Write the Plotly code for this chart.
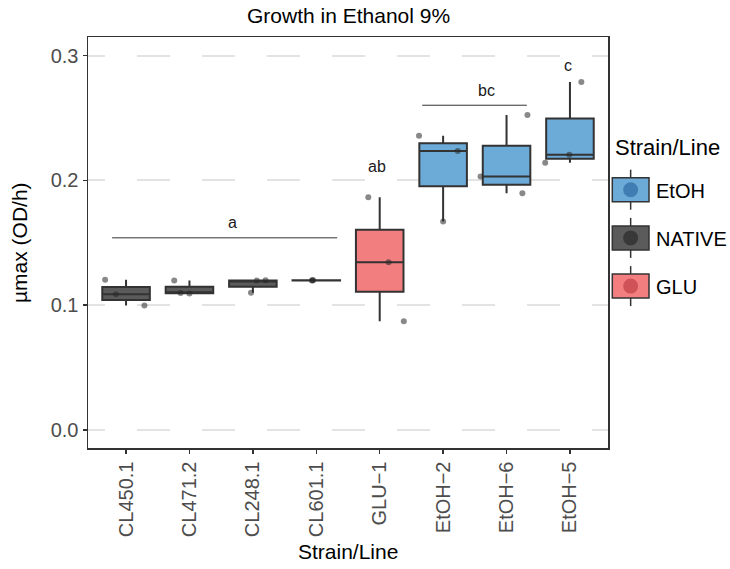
import numpy as np
import plotly.graph_objects as go

# ---------------- data ----------------
strains = ["CL450.1", "CL471.2", "CL248.1", "CL601.1",
           "GLU\u22121", "EtOH\u22122", "EtOH\u22126", "EtOH\u22125"]
groups = ["NATIVE", "NATIVE", "NATIVE", "NATIVE", "GLU", "EtOH", "EtOH", "EtOH"]

cl450_1 = [0.1203, 0.1088, 0.0997]
cl471_2 = [0.1198, 0.1098, 0.1094]
cl248_1 = [0.1100, 0.1197, 0.1199]
cl601_1 = [0.1198, 0.1199, 0.1200]
glu_1 = [0.1866, 0.1345, 0.0872]
etoh_2 = [0.2358, 0.2237, 0.1670]
etoh_6 = [0.2525, 0.2032, 0.1898]
etoh_5 = [0.2790, 0.2205, 0.2142]
values = [cl450_1, cl471_2, cl248_1, cl601_1, glu_1, etoh_2, etoh_6, etoh_5]

# horizontal jitter of each point (category units)
jitter = [[-0.33, -0.16, 0.29],
          [-0.24, -0.14, 0.00],
          [-0.03, 0.06, 0.20],
          [-0.07, -0.06, -0.05],
          [-0.18, 0.14, 0.38],
          [-0.38, 0.23, 0.00],
          [0.33, -0.41, 0.25],
          [0.18, -0.01, -0.39]]

legend_groups = ["EtOH", "NATIVE", "GLU"]
fill_colors = {"EtOH": "#6CAAD7", "NATIVE": "#5B5B5B", "GLU": "#F37E80"}
dot_colors = {"EtOH": "#3F7DB3", "NATIVE": "#383838", "GLU": "#CF5258"}

sig_labels = ["a", "ab", "bc", "c"]
sig_x = [1.68, 3.95, 5.68, 6.97]
sig_y = [0.166, 0.211, 0.272, 0.292]
bar_x0 = [-0.22, 4.67]
bar_x1 = [3.33, 6.32]
bar_y = [0.154, 0.2603]

y_ticks = [0.0, 0.1, 0.2, 0.3]

# ---------------- layout constants ----------------
W, H = 730, 569
L, R, T, B = 88, 608, 37, 448
FONT = "Liberation Sans, Arial, Helvetica, sans-serif"

def px_x(p):
    return (p - L) / (R - L)

def px_y(p):
    return (B - p) / (B - T)

fig = go.Figure()

# boxes (ggplot style: type-7 quartiles, 1.5 IQR whiskers)
for i, (name, grp, vals) in enumerate(zip(strains, groups, values)):
    v = np.array(vals, dtype=float)
    q1, med, q3 = np.percentile(v, [25, 50, 75])
    iqr = q3 - q1
    lo = v[v >= q1 - 1.5 * iqr].min()
    hi = v[v <= q3 + 1.5 * iqr].max()
    fig.add_trace(go.Box(
        x=[i], q1=[q1], median=[med], q3=[q3],
        lowerfence=[lo], upperfence=[hi],
        width=0.75, whiskerwidth=0,
        fillcolor=fill_colors[grp],
        line=dict(color="#333333", width=2),
        boxpoints=False, showlegend=False, hoverinfo="skip",
    ))

# jittered points
for i, (vals, jit) in enumerate(zip(values, jitter)):
    fig.add_trace(go.Scatter(
        x=[i + j for j in jit], y=vals, mode="markers",
        marker=dict(color="rgba(40,40,40,0.55)", size=6,
                    line=dict(width=0)),
        showlegend=False, hoverinfo="skip",
    ))

shapes = []
annotations = []

# significance bars and letters
for x0, x1, y in zip(bar_x0, bar_x1, bar_y):
    shapes.append(dict(type="line", xref="x", yref="y", x0=x0, x1=x1,
                       y0=y, y1=y, line=dict(color="#333333", width=1)))
for lab, x, y in zip(sig_labels, sig_x, sig_y):
    annotations.append(dict(x=x, y=y, xref="x", yref="y", text=lab,
                            showarrow=False,
                            font=dict(family=FONT, size=16, color="#1a1a1a")))

# title and axis titles
annotations.append(dict(x=0.5, y=1, xref="paper", yref="paper",
                        text="Growth in Ethanol 9%", showarrow=False,
                        yanchor="middle", yshift=T - 15,
                        font=dict(family=FONT, size=21, color="#000000")))
annotations.append(dict(x=0.5, y=0, xref="paper", yref="paper",
                        text="Strain/Line", showarrow=False,
                        yanchor="middle", yshift=-(551 - B),
                        font=dict(family=FONT, size=21, color="#000000")))
annotations.append(dict(x=0, y=0.5, xref="paper", yref="paper",
                        text="\u00b5max (OD/h)", showarrow=False,
                        textangle=-90, xanchor="center",
                        xshift=-(L - 19.5),
                        font=dict(family=FONT, size=21, color="#000000")))

# custom legend (ggplot look)
annotations.append(dict(x=px_x(613), y=px_y(147), xref="paper", yref="paper",
                        text="Strain/Line", showarrow=False,
                        xanchor="left", yanchor="middle",
                        font=dict(family=FONT, size=22, color="#000000")))
key_x0, key_x1 = 612.3, 649
key_cx = (key_x0 + key_x1) / 2
for k, grp in enumerate(legend_groups):
    cy = 189.7 + 48.2 * k
    shapes.append(dict(type="line", xref="paper", yref="paper",
                       x0=px_x(key_cx), x1=px_x(key_cx),
                       y0=px_y(cy - 20), y1=px_y(cy + 20),
                       line=dict(color="#333333", width=1.5)))
    shapes.append(dict(type="rect", xref="paper", yref="paper",
                       x0=px_x(key_x0), x1=px_x(key_x1),
                       y0=px_y(cy + 12), y1=px_y(cy - 12),
                       fillcolor=fill_colors[grp],
                       line=dict(color="#333333", width=1.5)))
    shapes.append(dict(type="circle", xref="paper", yref="paper",
                       x0=px_x(key_cx - 7.5), x1=px_x(key_cx + 7.5),
                       y0=px_y(cy + 7.5), y1=px_y(cy - 7.5),
                       fillcolor=dot_colors[grp], line=dict(width=0)))
    annotations.append(dict(x=px_x(654), y=px_y(cy + 1), xref="paper",
                            yref="paper", text=grp, showarrow=False,
                            xanchor="left", yanchor="middle",
                            font=dict(family=FONT, size=20, color="#000000")))

grid_dash = "17px,32px" + ",33px,32px" * 9

fig.update_layout(
    width=W, height=H,
    margin=dict(l=L, r=W - R, t=T, b=H - B, autoexpand=False),
    paper_bgcolor="white", plot_bgcolor="white",
    font=dict(family=FONT),
    showlegend=False,
    shapes=shapes, annotations=annotations,
)
fig.update_xaxes(
    range=[-0.6, len(strains) - 0.4],
    tickmode="array", tickvals=list(range(len(strains))), ticktext=strains,
    tickangle=-90, ticks="outside", ticklen=4, tickwidth=1.5, tickcolor="#333333",
    tickfont=dict(family=FONT, size=20, color="#4D4D4D"),
    showgrid=False, zeroline=False, automargin=False,
    showline=True, mirror=True, linecolor="#333333", linewidth=1.5,
)
fig.update_yaxes(
    range=[-0.0145, 0.315],
    tickmode="array", tickvals=y_ticks, ticktext=[f"{v:.1f}" for v in y_ticks],
    ticks="outside", ticklen=4, tickwidth=1.5, tickcolor="#333333",
    tickfont=dict(family=FONT, size=20, color="#4D4D4D"),
    showgrid=True, gridcolor="#E3E3E3", gridwidth=2, griddash=grid_dash,
    zeroline=False, automargin=False,
    showline=True, mirror=True, linecolor="#333333", linewidth=1.5,
)

fig.write_html(
    "out.html",
    config={"displayModeBar": False, "staticPlot": True},
    post_script=("document.documentElement.style.margin='0';"
                 "document.body.style.margin='0';"
                 "document.body.style.padding='0';"
                 "document.body.style.overflow='hidden';"),
)
